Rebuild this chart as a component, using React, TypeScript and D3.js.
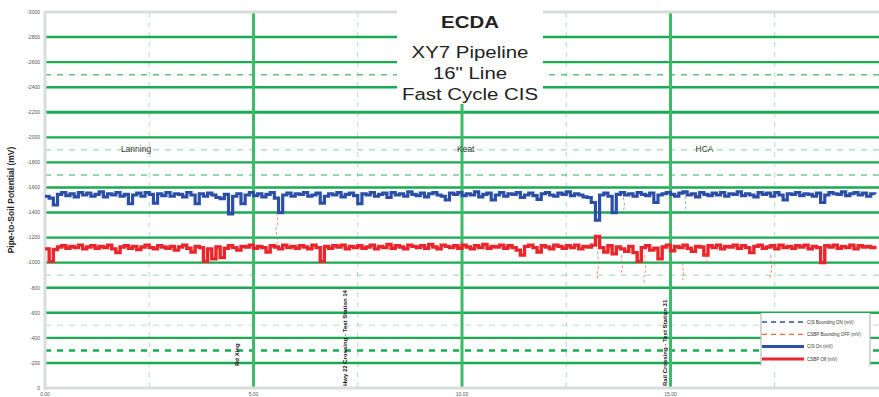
import * as d3 from "d3";

// survey spacing (miles) between readings
const KM_STEP = 0.1;

// CIS "On" potentials (mV)
const cisOn = [
  -1530, -1515, -1460, -1545, -1560, -1535, -1550, -1525, -1560, -1540,
  -1555, -1530, -1545, -1565, -1525, -1550, -1540, -1560, -1530, -1545,
  -1470, -1540, -1555, -1530, -1560, -1545, -1475, -1550, -1535, -1560,
  -1530, -1550, -1545, -1525, -1560, -1540, -1470, -1550, -1530, -1555,
  -1540, -1520, -1510, -1545, -1390, -1530, -1550, -1470, -1540, -1560,
  -1535, -1550, -1525, -1545, -1560, -1515, -1400, -1540, -1555, -1530,
  -1550, -1545, -1560, -1530, -1540, -1555, -1475, -1530, -1550, -1540,
  -1560, -1525, -1545, -1555, -1535, -1470, -1550, -1540, -1560, -1530,
  -1545, -1555, -1520, -1560, -1540, -1550, -1530, -1565, -1545, -1535,
  -1555, -1525, -1550, -1560, -1540, -1530, -1500, -1555, -1545, -1560,
  -1535, -1550, -1540, -1565, -1525, -1545, -1555, -1500, -1540, -1560,
  -1530, -1550, -1545, -1560, -1520, -1540, -1555, -1535, -1505, -1550,
  -1560, -1540, -1530, -1555, -1545, -1565, -1535, -1550, -1540, -1525,
  -1520, -1480, -1340, -1540, -1555, -1530, -1400, -1545, -1560, -1540,
  -1550, -1530, -1560, -1545, -1535, -1555, -1480, -1540, -1550, -1560,
  -1545, -1530, -1555, -1565, -1540, -1550, -1525, -1560, -1545, -1535,
  -1555, -1540, -1560, -1530, -1550, -1545, -1565, -1535, -1550, -1540,
  -1525, -1560, -1545, -1555, -1530, -1560, -1540, -1500, -1550, -1545,
  -1560, -1535, -1550, -1545, -1530, -1555, -1480, -1540, -1560, -1550,
  -1545, -1565, -1535, -1550, -1560, -1540, -1555, -1530, -1550, -1545,
];

// CIS "Off" potentials (mV)
const cisOff = [
  -1110, -1010, -1105, -1125, -1135, -1115, -1130, -1120, -1140, -1110,
  -1125, -1135, -1115, -1130, -1120, -1140, -1110, -1080, -1125, -1135,
  -1115, -1130, -1105, -1125, -1140, -1120, -1110, -1135, -1125, -1115,
  -1130, -1100, -1125, -1140, -1115, -1085, -1130, -1120, -1010, -1110,
  -1030, -1125, -1040, -1115, -1135, -1120, -1100, -1130, -1125, -1140,
  -1115, -1130, -1120, -1085, -1135, -1125, -1110, -1140, -1120, -1130,
  -1115, -1135, -1125, -1110, -1140, -1120, -1010, -1130, -1115, -1135,
  -1125, -1140, -1110, -1130, -1120, -1135, -1115, -1125, -1140, -1110,
  -1130, -1120, -1145, -1115, -1135, -1125, -1110, -1140, -1130, -1120,
  -1135, -1115, -1145, -1125, -1110, -1140, -1130, -1120, -1135, -1115,
  -1140, -1125, -1110, -1135, -1120, -1145, -1115, -1130, -1125, -1140,
  -1115, -1135, -1120, -1100, -1060, -1130, -1140, -1120, -1085, -1135,
  -1125, -1110, -1140, -1130, -1115, -1135, -1120, -1140, -1110, -1130,
  -1125, -1140, -1210, -1120, -1085, -1135, -1070, -1125, -1110, -1090,
  -1130, -1080, -1010, -1120, -1135, -1100, -1115, -1030, -1125, -1140,
  -1095, -1130, -1120, -1140, -1115, -1090, -1130, -1125, -1060, -1135,
  -1120, -1140, -1110, -1130, -1125, -1140, -1115, -1135, -1120, -1080,
  -1130, -1140, -1115, -1125, -1135, -1110, -1140, -1120, -1130, -1115,
  -1135, -1125, -1140, -1110, -1130, -1120, -1000, -1135, -1125, -1140,
  -1115, -1130, -1120, -1140, -1110, -1135, -1125, -1130, -1120, -1135,
];

// bounding readings, only where they leave the main trace
const boundOn: [number, number][][] = [
  [[13.87, -1520], [13.9, -1450], [13.85, -1390]],
  [[15.35, -1530], [15.37, -1420]],
];
const boundOff: [number, number][][] = [
  [[5.55, -1400], [5.59, -1330], [5.53, -1260], [5.58, -1200], [5.56, -1140]],
  [[13.25, -1090], [13.28, -980], [13.23, -900], [13.27, -860]],
  [[13.82, -1060], [13.85, -960], [13.8, -900]],
  [[14.38, -1060], [14.41, -950], [14.35, -870], [14.39, -830]],
  [[15.28, -1000], [15.32, -900], [15.29, -860]],
  [[15.85, -1060], [15.88, -990]],
  [[17.4, -1060], [17.43, -950], [17.38, -870]],
];

const yTicks = [-3000, -2800, -2600, -2400, -2200, -2000, -1800, -1600,
  -1400, -1200, -1000, -800, -600, -400, -200, 0];
const xTicks = [0, 5, 10, 15];
const xTickLabels = ["0.00", "5.00", "10.00", "15.00"];
const xMajor = [5, 10, 15];
const xMinor = [2.5, 7.5, 12.5, 17.5];
const refLines = [-2500, -1900, -1700, -900, -500, -300];

const sections = [
  { name: "Lanning", mile: 1.82 },
  { name: "Keat", mile: 9.88 },
  { name: "HCA", mile: 15.6 },
];
const notes = [
  { mile: 4.6, text: "Rd Xing" },
  { mile: 7.19, text: "Hwy 22 Crossing - Test Station 14" },
  { mile: 14.87, text: "Rail Crossing - Test Station 31" },
];
const legendItems = [
  { label: "CIS Bounding ON (mV)", color: "#2b4fa6", dashed: true },
  { label: "CSBP Bounding OFF (mV)", color: "#f0643c", dashed: true },
  { label: "CIS On (mV)", color: "#2b4fa6", dashed: false },
  { label: "CSBP Off (mV)", color: "#e8262b", dashed: false },
];

const W = 879;
const H = 397;
const font = "Liberation Sans, Arial, sans-serif";

export default function App() {
  const x = d3.scaleLinear().domain([0, 20]).range([45, 879]);
  const y = d3.scaleLinear().domain([-3000, 0]).range([12, 388]);

  const series = d3
    .line<number>()
    .x((_, i) => x(i * KM_STEP))
    .y((d) => y(d))
    .curve(d3.curveStepAfter);
  const seg = d3
    .line<[number, number]>()
    .x((d) => x(d[0]))
    .y((d) => y(d[1]));

  const green = "#19aa52";
  const refStyle = [
    { op: 0.7, w: 1.5 },
    { op: 0.35, w: 1.5 },
    { op: 0.6, w: 1.5 },
    { op: 0.3, w: 1.5 },
    { op: 0.2, w: 1.5 },
    { op: 1, w: 2.5 },
  ];

  return (
    <svg
      width={W}
      height={H}
      style={{ position: "absolute", left: 0, top: 0, background: "#fff" }}
      fontFamily={font}
    >
      {/* minor vertical grid */}
      {xMinor.map((m) => (
        <line key={m} x1={x(m)} x2={x(m)} y1={12} y2={388}
          stroke={green} strokeOpacity={0.35} strokeWidth={1} strokeDasharray="5 5" />
      ))}

      {/* horizontal grid */}
      {yTicks.slice(1, -1).map((t) => (
        <line key={t} x1={45} x2={W} y1={y(t)} y2={y(t)} stroke={green}
          strokeWidth={t === -2200 ? 3.2 : 2.4} />
      ))}
      {refLines.map((r, i) => (
        <line key={r} x1={45} x2={W} y1={y(r)} y2={y(r)} stroke={green}
          strokeOpacity={refStyle[i].op} strokeWidth={refStyle[i].w} strokeDasharray="6 6" />
      ))}

      {/* major vertical grid */}
      {xMajor.map((t) => (
        <line key={t} x1={x(t)} x2={x(t)} y1={12} y2={388} stroke="#3dbb66" strokeWidth={3} />
      ))}

      {/* frame */}
      <line x1={45} x2={W} y1={12} y2={12} stroke="#d9dcdc" strokeWidth={3} />
      <line x1={45} x2={W} y1={388} y2={388} stroke="#d9dcdc" strokeWidth={3} />
      <line x1={45} x2={45} y1={11} y2={390} stroke="#d9dcdc" strokeWidth={3} />

      {/* data */}
      <path d={series(cisOff) ?? ""} fill="none" stroke="#e8262b" strokeWidth={3.4} />
      <path d={series(cisOn) ?? ""} fill="none" stroke="#2b4fa6" strokeWidth={3.2} />
      {boundOff.map((s, i) => (
        <path key={"bo" + i} d={seg(s) ?? ""} fill="none" stroke="#f0643c"
          strokeOpacity={0.7} strokeWidth={1} strokeDasharray="3 2" />
      ))}
      {boundOn.map((s, i) => (
        <path key={"bn" + i} d={seg(s) ?? ""} fill="none" stroke="#2b4fa6"
          strokeOpacity={0.5} strokeWidth={1} strokeDasharray="3 2" />
      ))}

      {/* y tick labels */}
      {yTicks.map((t) => (
        <text key={t} x={40} y={y(t) + 1.8} fontSize={5} textAnchor="end" fill="#555">
          {t}
        </text>
      ))}
      {/* x tick labels */}
      {xTicks.map((t, i) => (
        <text key={t} x={x(t)} y={396} fontSize={5} textAnchor="middle" fill="#555">
          {xTickLabels[i]}
        </text>
      ))}

      {/* axis title */}
      <text transform="translate(14,200) rotate(-90)" fontSize={8.5} fontWeight="bold"
        textAnchor="middle" fill="#222">
        Pipe-to-Soil Potential (mV)
      </text>

      {/* section labels */}
      {sections.map((s) => (
        <text key={s.name} x={x(s.mile)} y={152} fontSize={8.5} fill="#333">
          {s.name}
        </text>
      ))}

      {/* feature notes */}
      {notes.map((n) => (
        <text key={n.text} transform={`translate(${x(n.mile) + 2},${n.text.length < 10 ? 366 : 386}) rotate(-90)`}
          fontSize={6} fontWeight="bold" fill="#111">
          {n.text}
        </text>
      ))}

      {/* title */}
      <rect x={397} y={0} width={146} height={104} fill="#fff" />
      <g transform="translate(470,0) scale(1.2,1)" fill="#222" textAnchor="middle">
        <text y={28} fontSize={17} fontWeight="bold">ECDA</text>
        <text y={58} fontSize={17}>XY7 Pipeline</text>
        <text y={79} fontSize={17}>16" Line</text>
        <text y={100} fontSize={17}>Fast Cycle CIS</text>
      </g>

      {/* legend */}
      <rect x={761} y={313} width={109} height={53} fill="#fff" />
      <line x1={761} x2={761} y1={313} y2={366} stroke="#bbb" strokeWidth={1.2} />
      <line x1={870} x2={870} y1={313} y2={366} stroke="#bbb" strokeWidth={1.2} />
      {legendItems.map((l, i) => (
        <g key={l.label} transform={`translate(762,${322 + i * 12.3})`}>
          <line x1={0} x2={42} y1={0} y2={0} stroke={l.color}
            strokeWidth={l.dashed ? 1.3 : 3} strokeDasharray={l.dashed ? "5 4" : undefined} />
          <text x={45} y={1.6} fontSize={4.5} fill="#333">{l.label}</text>
        </g>
      ))}
    </svg>
  );
}
